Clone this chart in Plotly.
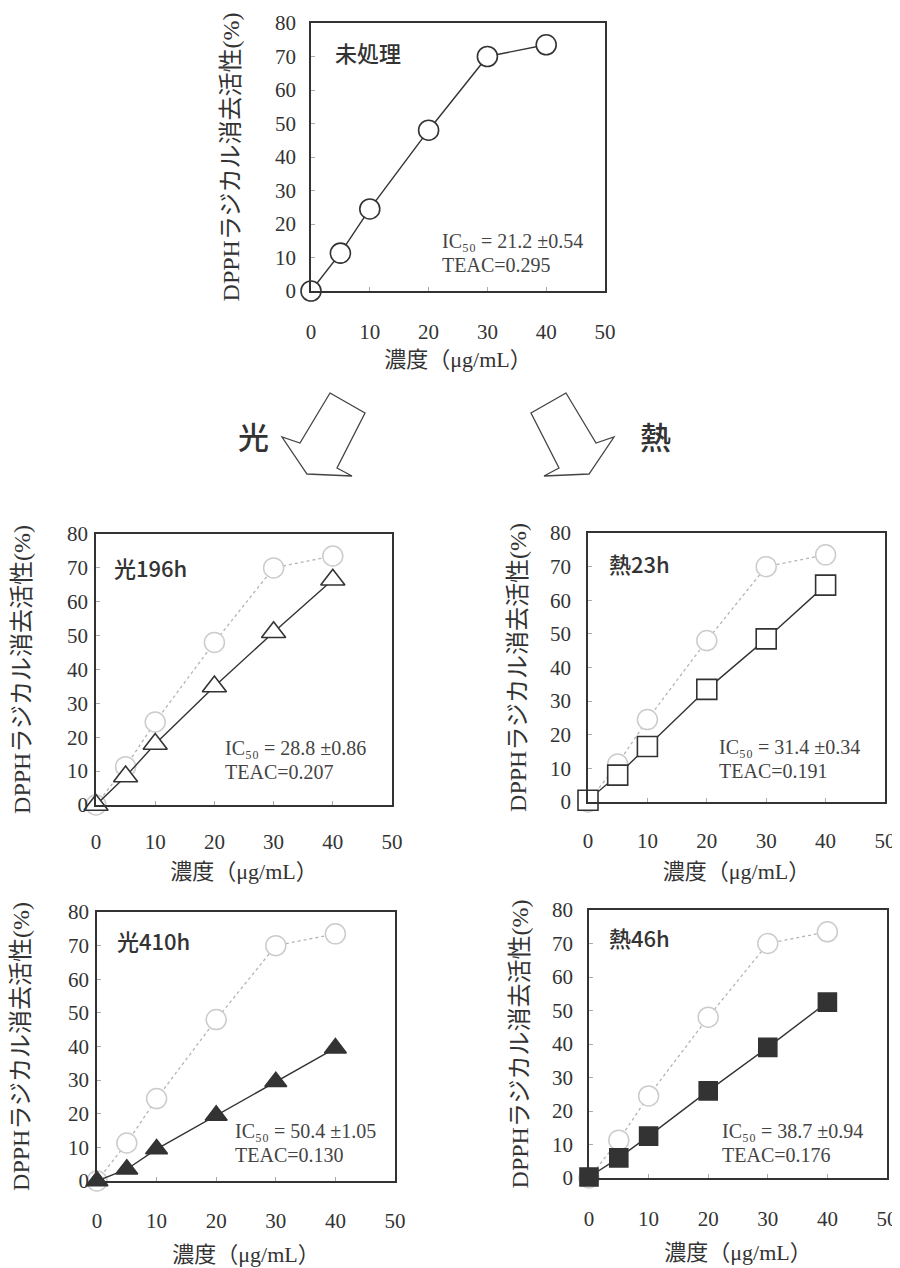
import plotly.graph_objects as go

# ---------------- data ----------------
conc = [0, 5, 10, 20, 30, 40]                       # 濃度 (μg/mL)
untreated = [0, 11.3, 24.5, 48, 70, 73.5]           # 未処理
light_196h = [0, 8.4, 18, 35, 51, 66.5]             # 光196h
heat_23h = [0.5, 8, 16.5, 33.5, 48.5, 64.5]         # 熱23h
light_410h = [0, 3.5, 9.5, 19.5, 29.5, 39.5]        # 光410h
heat_46h = [0.3, 6, 12.5, 26, 39, 52.5]             # 熱46h

panel_names = ["未処理", "光196h", "熱23h", "光410h", "熱46h"]
ic50_means = ["21.2", "28.8", "31.4", "50.4", "38.7"]
ic50_sds = ["0.54", "0.86", "0.34", "1.05", "0.94"]
teac_texts = ["0.295", "0.207", "0.191", "0.130", "0.176"]

x_ticks = [0, 10, 20, 30, 40, 50]
y_ticks = [0, 10, 20, 30, 40, 50, 60, 70, 80]
x_title = "濃度（μg/mL）"
y_title = "DPPHラジカル消去活性(%)"

# ---------------- layout helpers ----------------
# the page body has an 8px margin, so the figure is 8px smaller and all
# target pixel positions are shifted by that amount
OFF = 8
W, H = 900 - OFF, 1268 - OFF
def px(x):
    return (x - OFF) / W
def py(y):
    return 1 - (y - OFF) / H

# plot-area boxes in window pixels: (left, right, top, bottom)
boxes = [
    (311, 605, 23, 291),
    (96, 392, 534, 805),
    (588, 885, 533, 802),
    (97, 395, 912, 1181),
    (589, 887, 910, 1178),
]
series = [untreated, light_196h, heat_23h, light_410h, heat_46h]
symbols = ["circle", "triangle-up", "square", "triangle-up", "square"]
fills = ["white", "white", "white", "#333333", "#333333"]
sizes = [20, 21, 20, 19, 18]
# per-panel text spacing
y_tls = [9, 2, 11, 2, 10]          # y tick label standoff
y_tso = [29, 30, 17, 32, 17]       # y title standoff
x_tls = [21, 17, 19, 20, 21]       # x tick label standoff
x_tso = [9, 11, 12, 15, 15]        # x title standoff
# label positions (data coords) and IC50 text positions (two lines)
label_pos = [(3.7, 71.3), (2.7, 70.3), (3.2, 71), (3.0, 71.7), (3.0, 71.9)]
ic_pos = [(21.9, 11.3), (21.5, 13.3), (21.7, 12.8), (22.8, 11.3), (22.0, 10.4)]
LINE_GAP = 3.6  # half line spacing in data units

SERIF = "Liberation Serif, DejaVu Serif, Noto Sans CJK JP"
GOTH = "Noto Sans CJK JP"

fig = go.Figure()
layout = dict(
    width=W, height=H,
    margin=dict(l=0, r=0, t=0, b=0, pad=0, autoexpand=False),
    paper_bgcolor="white", plot_bgcolor="white",
    showlegend=False,
    annotations=[], shapes=[],
)

for i, (box, ys) in enumerate(zip(boxes, series)):
    n = "" if i == 0 else str(i + 1)
    xref, yref = "x" + n, "y" + n
    l, r, t, b = box
    layout["xaxis" + n] = dict(
        domain=[px(l), px(r)], anchor=yref, range=[0, 50], tickvals=x_ticks,
        showline=True, mirror=True, linecolor="#333", linewidth=1.5,
        ticks="inside", ticklen=4, tickcolor="#aaa", showgrid=False, zeroline=False,
        automargin=False,
        tickfont=dict(family=SERIF, size=21, color="#333"), ticklabelstandoff=x_tls[i],
        title=dict(text=x_title, font=dict(family=SERIF, size=22, color="#333"), standoff=x_tso[i]),
    )
    layout["yaxis" + n] = dict(
        domain=[py(b), py(t)], anchor=xref, range=[0, 80], tickvals=y_ticks,
        showline=True, mirror=True, linecolor="#333", linewidth=1.5,
        ticks="inside", ticklen=4, tickcolor="#aaa", showgrid=False, zeroline=False,
        automargin=False,
        tickfont=dict(family=SERIF, size=21, color="#333"), ticklabelstandoff=y_tls[i],
        title=dict(text=y_title, font=dict(family=SERIF, size=24, color="#333"), standoff=y_tso[i]),
    )
    if i > 0:
        fig.add_trace(go.Scatter(
            x=conc, y=untreated, xaxis=xref, yaxis=yref, mode="lines+markers",
            line=dict(color="#b4b4b4", width=1.3, dash="dot"),
            marker=dict(symbol="circle", size=20, color="white",
                        line=dict(color="#cccccc", width=1.5)),
            cliponaxis=False, name="未処理",
        ))
    fig.add_trace(go.Scatter(
        x=conc, y=ys, xaxis=xref, yaxis=yref, mode="lines+markers",
        line=dict(color="#333", width=1.4),
        marker=dict(symbol=symbols[i], size=sizes[i], color=fills[i],
                    line=dict(color="#333", width=1.6)),
        cliponaxis=False, name=panel_names[i],
    ))
    layout["annotations"].append(dict(
        x=label_pos[i][0], y=label_pos[i][1], xref=xref, yref=yref,
        text=panel_names[i], showarrow=False, xanchor="left", yanchor="middle",
        font=dict(family=GOTH, size=22, color="#333", weight=500),
    ))
    layout["annotations"].append(dict(
        x=ic_pos[i][0], y=ic_pos[i][1] + LINE_GAP, xref=xref, yref=yref,
        text="IC₅₀ = " + ic50_means[i] + " ±" + ic50_sds[i],
        showarrow=False, xanchor="left", yanchor="middle", align="left",
        font=dict(family=SERIF, size=20, color="#444"),
    ))
    layout["annotations"].append(dict(
        x=ic_pos[i][0], y=ic_pos[i][1] - LINE_GAP, xref=xref, yref=yref,
        text="TEAC=" + teac_texts[i],
        showarrow=False, xanchor="left", yanchor="middle", align="left",
        font=dict(family=SERIF, size=20, color="#444"),
    ))

# hollow block arrows (decoration, window-pixel outlines)
left_arrow = [(330, 393), (365, 413), (337, 468), (352, 476), (307, 474), (282, 437), (300, 443)]
right_arrow = [(566, 393), (531, 413), (559, 468), (544, 476), (589, 474), (614, 437), (596, 443)]
for pts in (left_arrow, right_arrow):
    path = "M " + " L ".join(f"{px(x):.5f},{py(y):.5f}" for x, y in pts) + " Z"
    layout["shapes"].append(dict(type="path", path=path, xref="paper", yref="paper",
                                 line=dict(color="#444", width=1.3), fillcolor="white"))

for txt, (cx, cy) in (("光", (253, 435)), ("熱", (655, 435))):
    layout["annotations"].append(dict(x=px(cx), y=py(cy), xref="paper", yref="paper", text=txt,
                                      xanchor="center", yanchor="middle", showarrow=False,
                                      font=dict(family=GOTH, size=31, color="#333", weight=500)))

fig.update_layout(**layout)
fig.write_html("out.html")
